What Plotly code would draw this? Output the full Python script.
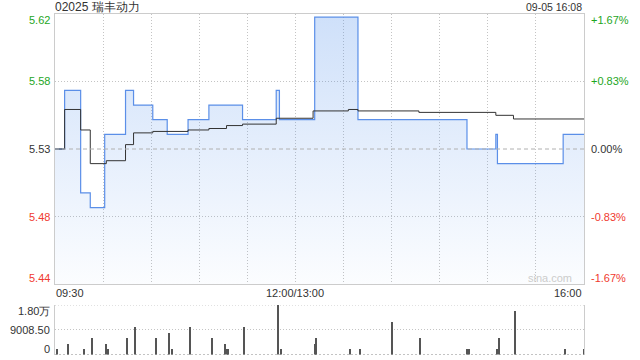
import plotly.graph_objects as go

# ---------------- data ----------------
title_text = "02025 瑞丰动力"
stamp_text = "09-05 16:08"
prev_close = 5.53

price_times = ["09:30", "09:36", "09:46", "09:52", "10:01", "10:14", "10:19", "10:31",
               "10:40", "10:53", "11:06", "11:27", "11:48", "11:50", "13:12", "13:39",
               "14:47", "15:05", "15:06", "15:47", "16:00"]
price_values = [5.53, 5.57, 5.50, 5.49, 5.54, 5.57, 5.56, 5.55,
                5.54, 5.55, 5.56, 5.55, 5.57, 5.55, 5.62, 5.55,
                5.53, 5.54, 5.52, 5.54, 5.54]

avg_times = ["09:30", "09:36", "09:46", "09:52", "10:02", "10:14", "10:19", "10:31",
             "10:53", "11:06", "11:17", "11:27", "11:48", "13:11", "13:33", "13:39",
             "14:17", "15:05", "15:16", "16:00"]
avg_values = [5.53, 5.557, 5.543, 5.520, 5.522, 5.533, 5.541, 5.542,
              5.543, 5.544, 5.546, 5.547, 5.551, 5.556, 5.557, 5.556,
              5.555, 5.553, 5.5505, 5.5505]

vol_times = ["09:31", "09:38", "09:48", "09:53", "10:02", "10:03", "10:15", "10:20",
             "10:33", "10:41", "10:43", "10:54", "11:08", "11:16", "11:17", "11:18",
             "11:28", "11:49", "11:51", "13:12", "13:13", "13:34", "13:40", "14:00",
             "14:18", "14:47", "14:48", "15:06", "15:07", "15:17", "15:48", "16:00"]
vol_values = [2040, 3850, 2040, 6000, 3850, 2040, 6000, 9960,
              6000, 7800, 2040, 9960, 6000, 3850, 2040, 2040,
              9960, 18017, 2040, 3850, 6000, 2040, 2040, 11760,
              6000, 2040, 2040, 2040, 6000, 15840, 2040, 2040]

price_tick_vals = [5.6222, 5.5761, 5.53, 5.4839, 5.4378]
price_tick_labels = ["5.62", "5.58", "5.53", "5.48", "5.44"]
pct_tick_labels = ["+1.67%", "+0.83%", "0.00%", "-0.83%", "-1.67%"]
tick_colors = ["#1ea61e", "#1ea61e", "#333333", "#f03a2f", "#f03a2f"]

vol_max = 18017
vol_tick_vals = [18017, 9008.5, 0]
vol_tick_labels = ["1.80万", "9008.50", "0"]

x_tick_vals_clock = ["09:30", "12:00", "16:00"]
x_tick_labels = ["09:30", "12:00/13:00", "16:00"]


def tmin(s):
    h, m = map(int, s.split(":"))
    mins = h * 60 + m
    if mins <= 720:
        return mins - 570
    return mins - 780 + 150


px = [tmin(t) for t in price_times]
ax = [tmin(t) for t in avg_times]
vx = [tmin(t) for t in vol_times]

y_lo, y_hi = price_tick_vals[-1], price_tick_vals[0]
GRID_DASH = "1px,2px"
GRID_COLOR = "#c4c4c4"

fig = go.Figure()

fig.add_trace(go.Scatter(
    x=px, y=price_values, mode="lines", line=dict(shape="hv", color="#5b8fe8", width=1.2),
    fill="tozeroy",
    fillgradient=dict(type="vertical",
                      colorscale=[[0, "rgba(75,140,235,0.02)"], [1, "rgba(75,140,235,0.27)"]],
                      start=y_lo, stop=y_hi),
    hoverinfo="skip", showlegend=False, xaxis="x", yaxis="y"))

fig.add_trace(go.Scatter(
    x=ax, y=avg_values, mode="lines", line=dict(shape="hv", color="#333333", width=1),
    hoverinfo="skip", showlegend=False, xaxis="x", yaxis="y"))

fig.add_trace(go.Bar(
    x=vx, y=vol_values, width=0.65, marker=dict(color="#555555", line=dict(width=0)),
    hoverinfo="skip", showlegend=False, xaxis="x2", yaxis="y2"))

W, H = 640, 360
xl, xr = 55 / W, 584 / W
main_dom = [1 - 284 / H, 1 - 14 / H]
vol_dom = [1 - 354.5 / H, 1 - 305 / H]

fig.update_layout(
    width=W, height=H, margin=dict(l=0, r=0, t=0, b=0),
    paper_bgcolor="white", plot_bgcolor="rgba(0,0,0,0)",
    font=dict(family="Liberation Sans, Arial, sans-serif", size=11, color="#333"),
    bargap=0,
    xaxis=dict(domain=[xl, xr], range=[0, 330], tick0=0, dtick=30, showgrid=True,
               gridcolor=GRID_COLOR, griddash=GRID_DASH, gridwidth=1,
               showline=True, mirror=True, linecolor="#cccccc", linewidth=1,
               showticklabels=False, ticks="", zeroline=False, anchor="y"),
    yaxis=dict(domain=main_dom, range=[y_lo, y_hi], tickvals=[price_tick_vals[1], price_tick_vals[3]],
               showgrid=True, gridcolor=GRID_COLOR, griddash=GRID_DASH, gridwidth=1,
               showline=True, mirror=True, linecolor="#cccccc", linewidth=1,
               showticklabels=False, ticks="", zeroline=False, anchor="x"),
    xaxis2=dict(domain=[xl, xr], range=[0, 330], showgrid=False, showline=False,
                showticklabels=False, ticks="", zeroline=False, anchor="y2"),
    yaxis2=dict(domain=vol_dom, range=[0, vol_max], tickvals=[vol_tick_vals[1]],
                showgrid=True, gridcolor=GRID_COLOR, griddash=GRID_DASH, gridwidth=1,
                showline=True, mirror=True, linecolor="#cccccc", linewidth=1,
                showticklabels=False, ticks="", zeroline=False, anchor="x2"),
)

shapes = [
    dict(type="line", xref="x", yref="y", x0=0, x1=330, y0=prev_close, y1=prev_close,
         line=dict(color="#b0b0b0", width=1, dash="4px,3px"), layer="above"),
    dict(type="line", xref="x2", yref="y2", x0=0, x1=330, y0=vol_max, y1=vol_max,
         line=dict(color=GRID_COLOR, width=1, dash=GRID_DASH), layer="below"),
    dict(type="line", xref="x2", yref="y2", x0=0, x1=330, y0=0, y1=0,
         line=dict(color="#888888", width=1, dash="2px,2px"), layer="below"),
]
fig.update_layout(shapes=shapes)

ann = []
shifts = [-6, 0, 0, 0, 6]
for v, lab, pct, c, s in zip(price_tick_vals, price_tick_labels, pct_tick_labels, tick_colors, shifts):
    ann.append(dict(xref="paper", yref="y", x=52 / W, y=v, text=lab, showarrow=False,
                    xanchor="right", yanchor="middle", yshift=s,
                    font=dict(size=11, color=c)))
    ann.append(dict(xref="paper", yref="y", x=589 / W, y=v, text=pct, showarrow=False,
                    xanchor="left", yanchor="middle", yshift=s,
                    font=dict(size=11, color=c)))

vshifts = [-6, 0, 6]
for v, lab, s in zip(vol_tick_vals, vol_tick_labels, vshifts):
    ann.append(dict(xref="paper", yref="y2", x=52 / W, y=v, text=lab, showarrow=False,
                    xanchor="right", yanchor="middle", yshift=s,
                    font=dict(size=11, color="#333")))

anchors = ["left", "center", "right"]
for tv, lab, a in zip(x_tick_vals_clock, x_tick_labels, anchors):
    ann.append(dict(xref="x", yref="paper", x=tmin(tv), y=1 - 293 / H, text=lab,
                    showarrow=False, xanchor=a, yanchor="middle", xshift=(-1 if a == "left" else 0),
                    font=dict(size=11, color="#333")))

ann.append(dict(xref="paper", yref="paper", x=55 / W, y=1 - 7 / H, text=title_text,
                showarrow=False, xanchor="left", yanchor="middle", xshift=-2,
                font=dict(size=12, color="#333")))
ann.append(dict(xref="paper", yref="paper", x=584 / W, y=1 - 7 / H, text=stamp_text,
                showarrow=False, xanchor="right", yanchor="middle",
                font=dict(size=10.5, color="#333")))
ann.append(dict(xref="paper", yref="paper", x=574 / W, y=1 - 278 / H, text="sina.com",
                showarrow=False, xanchor="right", yanchor="middle",
                font=dict(size=11, color="#cccccc")))

fig.update_layout(annotations=ann)

fig.write_html("out.html")
